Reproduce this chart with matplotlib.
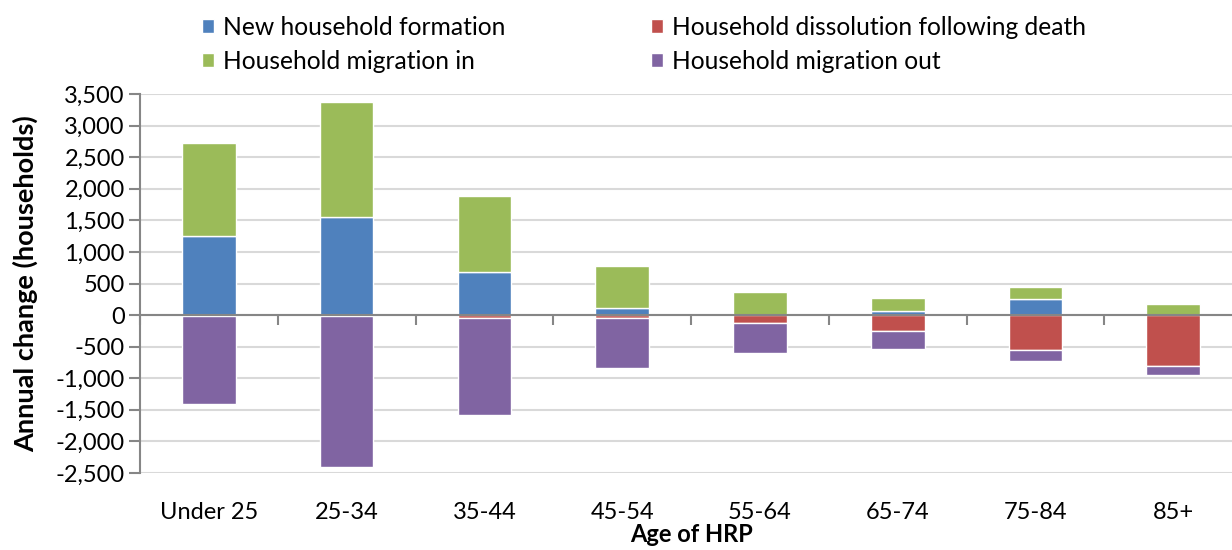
import numpy as np
import matplotlib.pyplot as plt
from matplotlib.ticker import FuncFormatter, MultipleLocator

plt.rcParams['font.family'] = ['Lato', 'DejaVu Sans']

categories = ["Under 25", "25-34", "35-44", "45-54", "55-64", "65-74", "75-84", "85+"]
new_formation = [1250, 1560, 690, 110, 0, 70, 250, 0]
migration_in = [1470, 1810, 1200, 660, 365, 195, 190, 175]
death = [-10, -15, -40, -45, -125, -255, -550, -810]
migration_out = [-1400, -2385, -1535, -800, -475, -285, -180, -145]

c_blue = '#4F81BD'
c_red = '#C0504D'
c_green = '#9BBB59'
c_purple = '#8064A2'
axis_grey = '#868686'

x = np.arange(len(categories))
w = 0.39

fig = plt.figure(figsize=(12.32, 5.5), dpi=100)
# the plot area runs a little past the right edge of the picture, as in the original
ax = fig.add_axes([0.1136, 0.14, 0.8947, 0.689])

kw = dict(width=w, edgecolor='white', linewidth=1.0, zorder=3)
b1 = ax.bar(x, new_formation, color=c_blue, **kw)
b3 = ax.bar(x, migration_in, bottom=new_formation, color=c_green, **kw)
b2 = ax.bar(x, death, color=c_red, **kw)
b4 = ax.bar(x, migration_out, bottom=death, color=c_purple, **kw)

ax.set_xlim(-0.5, len(categories) - 0.5)
ax.set_ylim(-2500, 3500)
ax.yaxis.set_major_locator(MultipleLocator(500))
ax.yaxis.set_major_formatter(FuncFormatter(lambda v, p: f"{int(v):,}"))
ax.grid(axis='y', color='#D9D9D9', linewidth=1.5, zorder=0)
ax.set_axisbelow(True)

for s in ['top', 'right']:
    ax.spines[s].set_visible(False)
ax.spines['left'].set_color(axis_grey)
ax.spines['left'].set_linewidth(1.5)
ax.spines['bottom'].set_position(('data', 0))
ax.spines['bottom'].set_color(axis_grey)
ax.spines['bottom'].set_linewidth(1.5)
ax.spines['bottom'].set_zorder(4)

ax.set_xticks(np.arange(len(categories) + 1) - 0.5)
ax.set_xticklabels([])
ax.tick_params(axis='x', direction='out', length=7, width=1.5, color=axis_grey)
ax.tick_params(axis='y', direction='out', length=8, width=1.5, color=axis_grey,
               labelsize=17, pad=3)

sec = ax.secondary_xaxis('bottom')
sec.set_xticks(x)
sec.set_xticklabels(categories, fontsize=17)
sec.tick_params(length=0, pad=21)
sec.spines['bottom'].set_visible(False)
sec.set_xlabel("Age of HRP", fontsize=17, fontweight='bold', labelpad=0)

ax.set_ylabel("Annual change (households)", fontsize=19.5, fontweight='bold', labelpad=2)
ax.yaxis.set_label_coords(-0.092, 0.5)

fig.legend([b1, b3, b2, b4],
           ["New household formation", "Household migration in",
            "Household dissolution following death", "Household migration out"],
           ncol=2, loc='upper left', bbox_to_anchor=(0.146, 1.011), frameon=False,
           fontsize=17.7, handlelength=0.5, handleheight=0.5, handletextpad=0.37,
           columnspacing=5.9, labelspacing=0.44)

fig.savefig("out.png", dpi=100)
